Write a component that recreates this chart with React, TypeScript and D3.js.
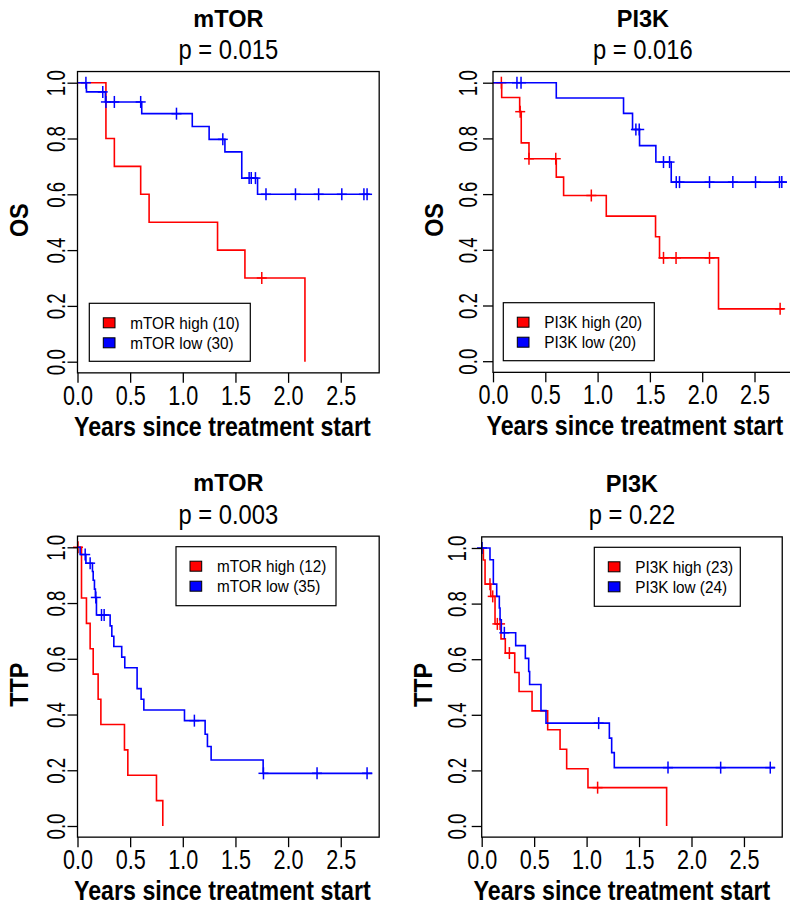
import React, { useEffect, useRef } from 'react';
import * as d3 from 'd3';

const xTicks = [0, 0.5, 1, 1.5, 2, 2.5];
const yTicks = [0, 0.2, 0.4, 0.6, 0.8, 1];

// OS by mTOR
const osMtorHighTime = [0, 0.27, 0.35, 0.6, 0.68, 1.33, 1.59, 2.16];
const osMtorHighSurv = [1, 0.8, 0.7, 0.6, 0.5, 0.4, 0.3, 0];
const osMtorHighCens = [1.75];
const osMtorLowTime = [0, 0.085, 0.265, 0.61, 1.09, 1.25, 1.4, 1.56, 1.71];
const osMtorLowSurv = [1, 0.967, 0.931, 0.889, 0.843, 0.797, 0.752, 0.658, 0.6];
const osMtorLowCens = [0.08, 0.24, 0.27, 0.35, 0.6, 0.94, 1.38, 1.63, 1.65, 1.69, 1.79, 2.07, 2.29, 2.51, 2.72, 2.75];

// OS by PI3K
const osPi3kHighTime = [0, 0.083, 0.255, 0.27, 0.344, 0.605, 0.675, 1.083, 1.554, 1.592, 2.156];
const osPi3kHighSurv = [1, 0.947, 0.896, 0.784, 0.727, 0.661, 0.595, 0.521, 0.447, 0.371, 0.188];
const osPi3kHighCens = [0.08, 0.26, 0.344, 0.6, 0.94, 1.63, 1.75, 2.07, 2.745];
const osPi3kLowTime = [0, 0.605, 1.248, 1.334, 1.401, 1.557, 1.704];
const osPi3kLowSurv = [1, 0.945, 0.89, 0.832, 0.774, 0.715, 0.643];
const osPi3kLowCens = [0.229, 0.268, 1.366, 1.398, 1.63, 1.688, 1.752, 1.783, 2.07, 2.293, 2.51, 2.739, 2.761];

// TTP by mTOR
const ttpMtorHighTime = [0, 0.038, 0.085, 0.12, 0.149, 0.196, 0.222, 0.446, 0.478, 0.75, 0.81];
const ttpMtorHighSurv = [1, 0.818, 0.727, 0.636, 0.545, 0.455, 0.364, 0.273, 0.182, 0.091, 0];
const ttpMtorHighCens = [0.005];
const ttpMtorLowTime = [0, 0.025, 0.08, 0.142, 0.149, 0.161, 0.17, 0.18, 0.31, 0.326, 0.345, 0.42, 0.449, 0.566, 0.604, 0.63, 1.016, 1.212, 1.234, 1.269, 1.763];
const ttpMtorLowSurv = [1, 0.974, 0.943, 0.913, 0.882, 0.85, 0.82, 0.757, 0.718, 0.681, 0.644, 0.606, 0.568, 0.493, 0.455, 0.416, 0.378, 0.329, 0.285, 0.237, 0.189];
const ttpMtorLowCens = [0.073, 0.12, 0.174, 0.228, 0.253, 1.11, 1.766, 2.275, 2.75];

// TTP by PI3K
const ttpPi3kHighTime = [0, 0.016, 0.032, 0.086, 0.127, 0.184, 0.225, 0.315, 0.356, 0.48, 0.629, 0.747, 0.81, 1.013, 1.763];
const ttpPi3kHighSurv = [1, 0.957, 0.87, 0.826, 0.727, 0.673, 0.622, 0.552, 0.484, 0.414, 0.346, 0.276, 0.206, 0.138, 0];
const ttpPi3kHighCens = [0.079, 0.105, 0.149, 0.175, 0.264, 1.105];
const ttpPi3kLowTime = [0, 0.079, 0.111, 0.143, 0.168, 0.175, 0.187, 0.324, 0.416, 0.448, 0.457, 0.565, 0.613, 1.217, 1.239, 1.264];
const ttpPi3kLowSurv = [1, 0.958, 0.87, 0.826, 0.784, 0.742, 0.695, 0.649, 0.603, 0.556, 0.509, 0.415, 0.37, 0.316, 0.264, 0.21];
const ttpPi3kLowCens = [0.003, 0.216, 1.115, 1.776, 2.278, 2.751];

const FONT = 'Liberation Sans, Arial, Helvetica, sans-serif';
const XMAX = 2.865;

const panels = [
  {
    title: 'mTOR', p: 'p = 0.015', ylab: 'OS',
    high: { time: osMtorHighTime, surv: osMtorHighSurv, cens: osMtorHighCens, end: 2.16, label: 'mTOR high (10)' },
    low: { time: osMtorLowTime, surv: osMtorLowSurv, cens: osMtorLowCens, end: 2.78, label: 'mTOR low (30)' },
    L: { x0: 77.5, pxYear: 105.3, y1: 82.7, y0: 361.7, labGap: 13, xlabOff: -6, leg: [89.3, 303.3, 161, 58] },
  },
  {
    title: 'PI3K', p: 'p = 0.016', ylab: 'OS',
    high: { time: osPi3kHighTime, surv: osPi3kHighSurv, cens: osPi3kHighCens, end: 2.78, label: 'PI3K high (20)' },
    low: { time: osPi3kLowTime, surv: osPi3kLowSurv, cens: osPi3kLowCens, end: 2.81, label: 'PI3K low (20)' },
    L: { x0: 493, pxYear: 104.6, y1: 82.7, y0: 361.2, labGap: 16, xlabOff: -8, leg: [503.3, 302.7, 151, 58] },
  },
  {
    title: 'mTOR', p: 'p = 0.003', ylab: 'TTP',
    high: { time: ttpMtorHighTime, surv: ttpMtorHighSurv, cens: ttpMtorHighCens, end: 0.81, label: 'mTOR high (12)' },
    low: { time: ttpMtorLowTime, surv: ttpMtorLowSurv, cens: ttpMtorLowCens, end: 2.8, label: 'mTOR low (35)' },
    L: { x0: 77.5, pxYear: 105.3, y1: 547.3, y0: 826, labGap: 13, xlabOff: -6, leg: [176, 546.7, 160, 59] },
  },
  {
    title: 'PI3K', p: 'p = 0.22', ylab: 'TTP',
    high: { time: ttpPi3kHighTime, surv: ttpPi3kHighSurv, cens: ttpPi3kHighCens, end: 1.763, label: 'PI3K high (23)' },
    low: { time: ttpPi3kLowTime, surv: ttpPi3kLowSurv, cens: ttpPi3kLowCens, end: 2.795, label: 'PI3K low (24)' },
    L: { x0: 481.7, pxYear: 104.9, y1: 548, y0: 826, labGap: 16, xlabOff: -10, leg: [594.3, 547.3, 146, 59] },
  },
];

function KMPanel({ cfg }: { cfg: any }) {
  const ref = useRef<SVGGElement>(null);

  useEffect(() => {
    const g = d3.select(ref.current);
    g.selectAll('*').remove();
    const L = cfg.L;
    const unit = L.y0 - L.y1;
    const x = d3.scaleLinear().domain([0, XMAX]).range([L.x0, L.x0 + XMAX * L.pxYear]);
    const y = d3.scaleLinear().domain([-0.04, 1.04]).range([L.y0 + 0.04 * unit, L.y1 - 0.04 * unit]);
    const [left, right] = x.range();
    const [bottom, top] = y.range();
    const cx = (left + right) / 2;

    // curves: red first, blue on top
    const line = d3.line<[number, number]>()
      .x((d) => x(d[0]))
      .y((d) => y(d[1]))
      .curve(d3.curveStepAfter);

    [[cfg.high, '#ff0000'], [cfg.low, '#0000ff']].forEach(([s, col]: any) => {
      const pts: [number, number][] = s.time.map((t: number, i: number) => [t, s.surv[i]]);
      if (s.end > s.time[s.time.length - 1]) pts.push([s.end, s.surv[s.surv.length - 1]]);
      g.append('path')
        .attr('d', line(pts))
        .attr('fill', 'none')
        .attr('stroke', col)
        .attr('stroke-width', 1.6);
      const marks = g.append('g').attr('stroke', col).attr('stroke-width', 1.5);
      s.cens.forEach((c: number) => {
        const idx = Math.max(0, d3.bisectRight(s.time, c) - 1);
        const px = x(c);
        const py = y(s.surv[idx]);
        marks.append('line').attr('x1', px).attr('x2', px).attr('y1', py - 6).attr('y2', py + 6);
        marks.append('line').attr('x1', px - 5).attr('x2', px + 5).attr('y1', py).attr('y2', py);
      });
    });

    // box
    g.append('rect')
      .attr('x', left).attr('y', top)
      .attr('width', right - left).attr('height', bottom - top)
      .attr('fill', 'none').attr('stroke', '#000').attr('stroke-width', 1.3);

    // x axis
    const xa = g.append('g')
      .attr('transform', `translate(0,${bottom})`)
      .call(d3.axisBottom(x).tickValues(xTicks).tickFormat(d3.format('.1f')).tickSize(10).tickSizeOuter(0));
    xa.select('.domain').remove();
    xa.selectAll('line').attr('stroke', '#000').attr('stroke-width', 1.3);
    xa.selectAll('text')
      .attr('y', 0).attr('dy', null)
      .attr('transform', 'translate(0,32) scale(0.8,1)')
      .attr('font-size', 27).attr('font-family', FONT).attr('fill', '#000');

    // y axis
    const ya = g.append('g')
      .attr('transform', `translate(${left},0)`)
      .call(d3.axisLeft(y).tickValues(yTicks).tickFormat(d3.format('.1f')).tickSize(10).tickSizeOuter(0));
    ya.select('.domain').remove();
    ya.selectAll('line').attr('stroke', '#000').attr('stroke-width', 1.3);
    ya.selectAll('text')
      .attr('x', 0).attr('dy', null)
      .attr('text-anchor', 'middle')
      .attr('transform', `translate(${-L.labGap},0) rotate(-90) scale(0.73,1)`)
      .attr('font-size', 25.5).attr('font-family', FONT).attr('fill', '#000');

    // titles
    g.append('text')
      .attr('transform', `translate(${cx},${top - 45})`)
      .attr('text-anchor', 'middle').attr('font-family', FONT)
      .attr('font-weight', 'bold').attr('font-size', 23.5)
      .text(cfg.title);
    g.append('text')
      .attr('transform', `translate(${cx},${top - 12.5}) scale(0.88,1)`)
      .attr('text-anchor', 'middle').attr('font-family', FONT)
      .attr('font-size', 27)
      .text(cfg.p);

    // axis titles
    g.append('text')
      .attr('transform', `translate(${cx + L.xlabOff},${bottom + 63}) scale(0.86,1)`)
      .attr('text-anchor', 'middle').attr('font-family', FONT)
      .attr('font-weight', 'bold').attr('font-size', 27)
      .text('Years since treatment start');
    g.append('text')
      .attr('transform', `translate(${left - 50},${(top + bottom) / 2 - 2}) rotate(-90) scale(0.9,1)`)
      .attr('text-anchor', 'middle').attr('font-family', FONT)
      .attr('font-weight', 'bold').attr('font-size', 26)
      .text(cfg.ylab);

    // legend
    const [lx, ly, lw, lh] = L.leg;
    const leg = g.append('g');
    leg.append('rect')
      .attr('x', lx).attr('y', ly).attr('width', lw).attr('height', lh)
      .attr('fill', '#fff').attr('stroke', '#000').attr('stroke-width', 1.2);
    [[cfg.high, '#ff0000'], [cfg.low, '#0000ff']].forEach(([s, col]: any, i: number) => {
      const rowY = ly + 19.5 + i * 20;
      leg.append('rect')
        .attr('x', lx + 14).attr('y', rowY - 5).attr('width', 11.7).attr('height', 10)
        .attr('fill', col).attr('stroke', '#000').attr('stroke-width', 1);
      leg.append('text')
        .attr('transform', `translate(${lx + 41},${rowY + 6}) scale(0.9,1)`)
        .attr('font-family', FONT).attr('font-size', 17)
        .text(s.label);
    });
  }, [cfg]);

  return <g ref={ref} />;
}

export default function App() {
  return (
    <svg
      width={790}
      height={905}
      style={{ position: 'absolute', left: 0, top: 0, display: 'block', background: '#fff' }}
    >
      <rect width={790} height={905} fill="#fff" />
      {panels.map((p, i) => (
        <KMPanel key={i} cfg={p} />
      ))}
    </svg>
  );
}
